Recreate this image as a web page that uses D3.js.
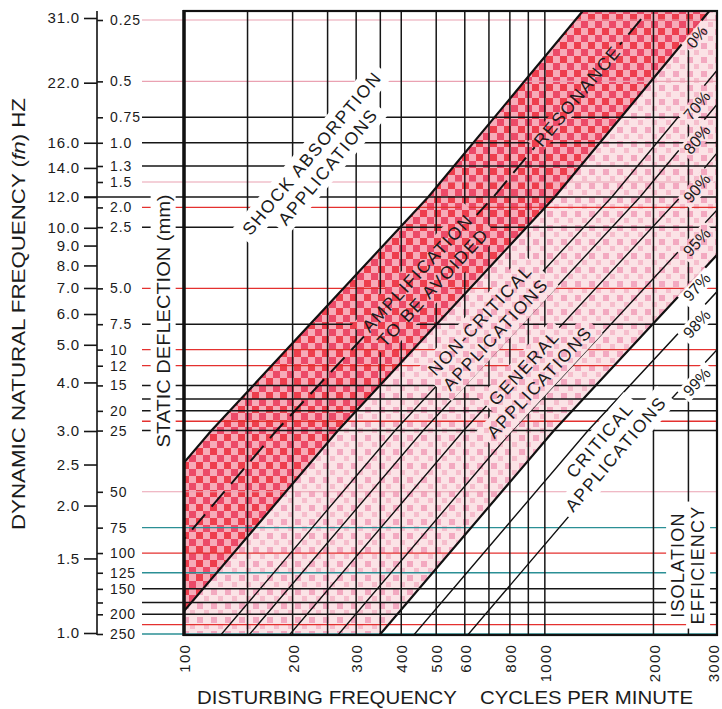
<!DOCTYPE html>
<html>
<head>
<meta charset="utf-8">
<script src="https://cdn.jsdelivr.net/npm/d3@7"></script>
<style>
  body { margin: 0; background: #fff; }
  svg text { font-family: "Liberation Sans", Arial, Helvetica, sans-serif; fill: #1b1b1b; }
</style>
</head>
<body>
<div id="chart"></div>
<script>
// ---- values ----
const cpmTicks = [100, 200, 300, 400, 500, 600, 800, 1000, 2000, 3000];
const cpmGrid = [150, 200, 250, 300, 350, 400, 500, 600, 700, 800, 900, 1000, 2000, 2500];
const hzTicks = [31, 22, 16, 14, 12, 10, 9, 8, 7, 6, 5, 4, 3, 2.5, 2, 1.5, 1];
const deflLabels = ['0.25', '0.5', '0.75', '1.0', '1.3', '1.5', '2.0', '2.5', '5.0', '7.5', '10', '12',
  '15', '20', '25', '50', '75', '100', '125', '150', '200', '250'];
const deflMinor = [175];
const deflGrid = [0.25, 0.5, 0.75, 1, 1.3, 1.5, 2, 2.5, 5, 7.5, 10, 12, 15, 17.5, 20, 22.5, 25,
  50, 75, 100, 125, 150, 175, 200, 225, 250];
const deflInk = ['p', 'p', 'k', 'k', 'k', 'p', 'r', 'k', 'r', 'k', 'r', 'r', 'k', 'k', 'k', 'r', 'k',
  'p', 't', 'r', 't', 'k', 'k', 'k', 'r', 't'];
const hzGrid = [12];

// frequency ratio (disturbing / natural) of each diagonal
const effLabels = ['0%', '70%', '80%', '90%', '95%', '97%', '98%', '99%'];
const effRatio = [1.48, 2.13, 2.55, 3.3, 4.5, 5.87, 7.3, 10.3];
const shockRatio = 0.66;
const resonanceRatio = 1;

const zoneLines = [
  ['SHOCK ABSORPTION', 'APPLICATIONS'],
  ['AMPLIFICATION', 'TO BE AVOIDED'],
  ['NON-CRITICAL', 'APPLICATIONS'],
  ['GENERAL', 'APPLICATIONS'],
  ['CRITICAL', 'APPLICATIONS'],
];
const zoneCpm = [238, 466, 695, 920, 1494];
const zoneHz = [14.6, 7.33, 5.55, 4.18, 2.75];

// ---- layout ----
const W = 722, H = 709;
const frame = { left: 184, right: 717, top: 11, bottom: 635 };
const axisX = 97;
const inkColor = { k: '#161616', r: '#e4312f', t: '#2b8f95', p: '#eaa2b2' };
const inkWidth = { k: 1.5, r: 1.3, t: 1.3, p: 1.1 };

const x = d3.scaleLog().domain([100, 3000]).range([frame.left, frame.right]);
// the printed scales are not perfectly logarithmic, so they are pinned at a few ticks
const y = d3.scaleLog().domain([1, 3, 12, 31]).range([633, 431, 197, 18]);
const defl = d3.scaleLog().domain([0.25, 1.3, 1.5, 250]).range([20, 166, 182, 634]);

const hzAt = (cpm, r) => cpm / (60 * r);
const diagPts = r => [50, 180 * r, 720 * r, 6000]
  .sort((a, b) => a - b)
  .map(c => [x(c), y(hzAt(c, r))]);
const lineGen = d3.line();
const slopeAt = (cpm, hz) => {
  const r = cpm / 60 / hz;
  const a = [x(cpm / 1.1), y(hzAt(cpm / 1.1, r))];
  const b = [x(cpm * 1.1), y(hzAt(cpm * 1.1, r))];
  return (Math.atan2(b[1] - a[1], b[0] - a[0]) * 180) / Math.PI;
};

const svg = d3.select('#chart').append('svg').attr('width', W).attr('height', H);
const defs = svg.append('defs');

// halftone-like fills
const dark = defs.append('pattern').attr('id', 'dark')
  .attr('patternUnits', 'userSpaceOnUse').attr('width', 14).attr('height', 14);
dark.append('rect').attr('width', 14).attr('height', 14).attr('fill', '#f7abb8');
dark.append('rect').attr('width', 7).attr('height', 7).attr('fill', '#ee3e4d');
dark.append('rect').attr('x', 7).attr('y', 7).attr('width', 7).attr('height', 7).attr('fill', '#ec4a68');

const light = defs.append('pattern').attr('id', 'light')
  .attr('patternUnits', 'userSpaceOnUse').attr('width', 14).attr('height', 14);
light.append('rect').attr('width', 14).attr('height', 14).attr('fill', '#fbe3e6');
light.append('rect').attr('x', 1).attr('y', 1).attr('width', 6).attr('height', 6).attr('fill', '#f3a9c0');
light.append('rect').attr('x', 8).attr('y', 8).attr('width', 5).attr('height', 5).attr('fill', '#f6bdcc');

defs.append('clipPath').attr('id', 'frame').append('rect')
  .attr('x', frame.left).attr('y', frame.top)
  .attr('width', frame.right - frame.left).attr('height', frame.bottom - frame.top);

// labels cut gaps into the line work
const mask = defs.append('mask').attr('id', 'gaps').attr('maskUnits', 'userSpaceOnUse')
  .attr('x', 0).attr('y', 0).attr('width', W).attr('height', H);
mask.append('rect').attr('width', W).attr('height', H).attr('fill', '#fff');
function punch(sel, padX, padY) {
  sel.each(function () {
    const b = this.getBBox();
    mask.append('rect')
      .attr('x', b.x - padX).attr('y', b.y - padY)
      .attr('width', b.width + 2 * padX).attr('height', b.height + 2 * padY)
      .attr('transform', d3.select(this).attr('transform'))
      .attr('fill', '#000');
  });
}

// ---- bands ----
const bands = svg.append('g').attr('clip-path', 'url(#frame)');
function bandPath(rA, rB) {
  return lineGen([...diagPts(rA), ...diagPts(rB).reverse()]) + 'Z';
}
bands.append('path').attr('d', bandPath(effRatio[0], effRatio[5])).attr('fill', 'url(#light)');
bands.append('path').attr('d', bandPath(shockRatio, effRatio[0])).attr('fill', 'url(#dark)');

// ---- line work ----
const ink = svg.append('g').attr('mask', 'url(#gaps)');

ink.append('g')
  .selectAll('line')
  .data(deflGrid)
  .join('line')
  .attr('x1', 142).attr('x2', frame.right)
  .attr('y1', d => defl(d)).attr('y2', d => defl(d))
  .attr('stroke', (d, i) => inkColor[deflInk[i]])
  .attr('stroke-width', (d, i) => inkWidth[deflInk[i]]);

ink.append('g')
  .selectAll('line')
  .data(hzGrid)
  .join('line')
  .attr('x1', axisX - 13).attr('x2', frame.right)
  .attr('y1', d => y(d)).attr('y2', d => y(d))
  .attr('stroke', inkColor.k).attr('stroke-width', 1.5);

ink.append('g')
  .selectAll('line')
  .data(cpmGrid)
  .join('line')
  .attr('x1', d => x(d)).attr('x2', d => x(d))
  .attr('y1', frame.top).attr('y2', frame.bottom)
  .attr('stroke', inkColor.k).attr('stroke-width', 1.5);

const diag = ink.append('g').attr('clip-path', 'url(#frame)').attr('fill', 'none').attr('stroke', '#111');
diag.append('path').attr('d', lineGen(diagPts(shockRatio))).attr('stroke-width', 2.2);
diag.append('path').attr('d', lineGen(diagPts(resonanceRatio)))
  .attr('stroke-width', 2).attr('stroke-dasharray', '20,10');
diag.selectAll('.eff')
  .data(effRatio)
  .join('path')
  .attr('class', 'eff')
  .attr('d', r => lineGen(diagPts(r)))
  .attr('stroke-width', (r, i) => (i === 0 || i === 5 ? 2.2 : 1.4));

// frame
svg.append('rect')
  .attr('x', frame.left).attr('y', frame.top)
  .attr('width', frame.right - frame.left).attr('height', frame.bottom - frame.top)
  .attr('fill', 'none').attr('stroke', '#111').attr('stroke-width', 2.2);
svg.append('line')
  .attr('x1', frame.left).attr('x2', frame.left)
  .attr('y1', frame.top - 1).attr('y2', frame.bottom + 1)
  .attr('stroke', '#111').attr('stroke-width', 3.5);

// ---- axes ----
svg.append('line')
  .attr('x1', axisX).attr('x2', axisX).attr('y1', frame.top).attr('y2', frame.bottom)
  .attr('stroke', '#111').attr('stroke-width', 1.6);

svg.append('g')
  .attr('transform', `translate(${axisX},0)`)
  .attr('color', '#161616')
  .call(d3.axisLeft(y).tickValues(hzTicks).tickFormat(d3.format('.1f')).tickSize(13).tickPadding(4))
  .call(g => g.select('.domain').remove())
  .call(g => g.selectAll('line').attr('stroke-width', 1.6))
  .call(g => g.selectAll('text').attr('font-size', 15).attr('letter-spacing', 0.8)
    .style('font-family', '"Liberation Sans", Arial, sans-serif'));

const deflValues = deflLabels.map(Number);
svg.append('g')
  .attr('transform', `translate(${axisX},0)`)
  .attr('color', '#161616')
  .call(d3.axisRight(defl).tickValues([...deflValues, ...deflMinor])
    .tickFormat(d => { const i = deflValues.indexOf(d); return i < 0 ? '' : deflLabels[i]; })
    .tickSize(6).tickPadding(7))
  .call(g => g.select('.domain').remove())
  .call(g => g.selectAll('line').attr('stroke-width', 1.6))
  .call(g => g.selectAll('text').attr('font-size', 14).attr('letter-spacing', 0.9)
    .style('font-family', '"Liberation Sans", Arial, sans-serif'));

svg.append('g')
  .selectAll('text')
  .data(cpmTicks)
  .join('text')
  .attr('transform', d => `translate(${Math.min(x(d) + 1, W - 8)},644) rotate(-90)`)
  .attr('text-anchor', 'end')
  .attr('dy', '0.35em')
  .attr('font-size', 15)
  .attr('letter-spacing', 1.2)
  .text(d => d);

// ---- titles ----
const yTitle = svg.append('text')
  .attr('transform', 'translate(18,314) rotate(-90)')
  .attr('text-anchor', 'middle')
  .attr('dy', '0.35em')
  .attr('font-size', 19)
  .attr('textLength', 432)
  .attr('lengthAdjust', 'spacingAndGlyphs');
yTitle.append('tspan').text('DYNAMIC NATURAL FREQUENCY (');
yTitle.append('tspan').attr('font-style', 'italic').text('fn');
yTitle.append('tspan').text(') HZ');

const deflTitle = svg.append('text')
  .attr('transform', 'translate(163,321) rotate(-90)')
  .attr('text-anchor', 'middle')
  .attr('dy', '0.35em')
  .attr('font-size', 19)
  .attr('textLength', 253)
  .attr('lengthAdjust', 'spacingAndGlyphs')
  .text('STATIC DEFLECTION (mm)');
punch(deflTitle, 5, 2);

svg.append('text')
  .attr('x', 197).attr('y', 704)
  .attr('font-size', 19)
  .attr('textLength', 260)
  .attr('lengthAdjust', 'spacingAndGlyphs')
  .text('DISTURBING FREQUENCY');
svg.append('text')
  .attr('x', 480).attr('y', 704)
  .attr('font-size', 19)
  .attr('textLength', 213)
  .attr('lengthAdjust', 'spacingAndGlyphs')
  .text('CYCLES PER MINUTE');

// ---- labels inside the plot ----
const labels = svg.append('g');

function zoneLabel(cpm, hz, lines, angle, lead, size, spacing) {
  const px = x(cpm), py = y(hz);
  return lines.map((str, i) =>
    labels.append('text')
      .attr('transform', `translate(${px},${py}) rotate(${angle})`)
      .attr('y', (i - (lines.length - 1) / 2) * lead)
      .attr('dy', '0.35em')
      .attr('text-anchor', 'middle')
      .attr('font-size', size)
      .attr('letter-spacing', spacing)
      .text(str));
}

zoneLines.forEach((lines, i) => {
  const a = slopeAt(zoneCpm[i], zoneHz[i]);
  zoneLabel(zoneCpm[i], zoneHz[i], lines, a, 21, 17.5, 1.6).forEach(t => punch(t, 6, 3));
});

const resCpm = 1230;
const reso = zoneLabel(resCpm, hzAt(resCpm, resonanceRatio), ['RESONANCE'],
  slopeAt(resCpm, hzAt(resCpm, resonanceRatio)), 0, 17.5, 1.6);
reso.forEach(t => punch(t, 4, -1));

const pctCpm = 2550;
effRatio.forEach((r, i) => {
  const hz = hzAt(pctCpm, r);
  const a = slopeAt(pctCpm, hz);
  const rad = (a * Math.PI) / 180;
  const off = 7;
  const t = labels.append('text')
    .attr('transform', `translate(${x(pctCpm) - Math.sin(rad) * off},${y(hz) + Math.cos(rad) * off}) rotate(${a})`)
    .attr('dy', '0.35em')
    .attr('text-anchor', 'middle')
    .attr('font-size', 16)
    .text(effLabels[i]);
  punch(t, 4, 0);
});

const isoCpm = 2490, isoHz = 1.447;
zoneLabel(isoCpm, isoHz, ['ISOLATION', 'EFFICIENCY'], -90, 20, 18, 1.2).forEach(t => punch(t, 4, 2));
</script>
</body>
</html>
